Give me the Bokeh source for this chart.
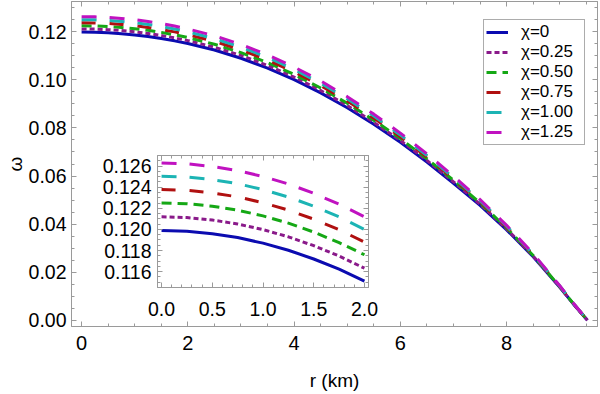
from bokeh.plotting import figure
from bokeh.models import (Range1d, LinearAxis, SingleIntervalTicker, NumeralTickFormatter,
                          Legend, LegendItem, GridBox, CustomLabelingPolicy)
from bokeh.embed import file_html
from bokeh.resources import INLINE

# ---------------- data ----------------
r_km = [0, 0.25, 0.5, 0.75, 1.0, 1.25, 1.5, 1.75, 2.0, 2.5, 3.0, 3.5, 4.0, 4.5,
        5.0, 5.5, 6.0, 6.5, 7.0, 7.5, 8.0, 8.5, 9.0, 9.25, 9.52]

omega_chi_000 = [0.11990, 0.11983, 0.11960, 0.11923, 0.11870, 0.11803, 0.11720, 0.11623, 0.11510,
                 0.11240, 0.10900, 0.10490, 0.10010, 0.09460, 0.08840, 0.08150, 0.07400, 0.06580,
                 0.05700, 0.04780, 0.03760, 0.02640, 0.01370, 0.00690, 0.0]
omega_chi_025 = [0.12119, 0.12112, 0.12089, 0.12051, 0.11998, 0.11930, 0.11846, 0.11748, 0.11633,
                 0.11360, 0.11016, 0.10602, 0.10116, 0.09560, 0.08933, 0.08236, 0.07478, 0.06649,
                 0.05759, 0.04829, 0.03798, 0.02666, 0.01384, 0.00697, 0.0]
omega_chi_050 = [0.12251, 0.12244, 0.12220, 0.12182, 0.12128, 0.12060, 0.11975, 0.11875, 0.11760,
                 0.11483, 0.11135, 0.10716, 0.10225, 0.09663, 0.09029, 0.08324, 0.07557, 0.06719,
                 0.05820, 0.04879, 0.03837, 0.02693, 0.01398, 0.00705, 0.0]
omega_chi_075 = [0.12377, 0.12370, 0.12346, 0.12308, 0.12253, 0.12183, 0.12097, 0.11997, 0.11880,
                 0.11600, 0.11249, 0.10825, 0.10329, 0.09761, 0.09120, 0.08408, 0.07633, 0.06787,
                 0.05878, 0.04927, 0.03874, 0.02719, 0.01411, 0.00712, 0.0]
omega_chi_100 = [0.12503, 0.12496, 0.12472, 0.12433, 0.12377, 0.12307, 0.12220, 0.12119, 0.12000,
                 0.11718, 0.11362, 0.10934, 0.10432, 0.09858, 0.09212, 0.08492, 0.07709, 0.06854,
                 0.05936, 0.04975, 0.03911, 0.02744, 0.01425, 0.00719, 0.0]
omega_chi_125 = [0.12628, 0.12621, 0.12596, 0.12557, 0.12501, 0.12430, 0.12342, 0.12239, 0.12120,
                 0.11834, 0.11475, 0.11042, 0.10535, 0.09955, 0.09302, 0.08575, 0.07785, 0.06921,
                 0.05993, 0.05022, 0.03948, 0.02769, 0.01438, 0.00726, 0.0]

series_labels = ["χ=0", "χ=0.25", "χ=0.50", "χ=0.75", "χ=1.00", "χ=1.25"]
series = [omega_chi_000, omega_chi_025, omega_chi_050, omega_chi_075, omega_chi_100, omega_chi_125]
inset_r_max = 2.0
x_title = "r (km)"
y_title = "ω"

# ---------------- styles ----------------
colors = ["#0b0bb0", "#8a1a8a", "#15a815", "#b01010", "#1cb4b4", "#c012c0"]
dashes = ["solid", "5 3", "10 6", "14 14", "15 13", "15 13"]
FONT = "Liberation Sans"
AX = "#9a9a9a"


def style_axis(ax, font_size=None, standoff=6):
    ax.axis_line_color = AX
    ax.major_tick_line_color = AX
    ax.minor_tick_line_color = AX
    ax.major_tick_in = 5
    ax.major_tick_out = 0
    ax.minor_tick_in = 3
    ax.minor_tick_out = 0
    ax.major_label_text_font = FONT
    ax.major_label_text_color = "black"
    ax.axis_label_text_font = FONT
    ax.axis_label_text_font_style = "normal"
    ax.axis_label_text_color = "black"
    if font_size is not None:
        ax.major_label_text_font_size = font_size
        ax.major_label_standoff = standoff
    else:
        # tick-only frame side (no labels, as in the reference)
        ax.major_label_text_font_size = "0px"
        ax.major_label_standoff = 0
        ax.major_label_policy = CustomLabelingPolicy(code="return []")


# ---------------- main figure ----------------
p = figure(width=600, height=394, x_range=Range1d(-0.19, 9.71), y_range=Range1d(-0.0026, 0.1326),
           output_backend="svg", toolbar_location=None,
           min_border_left=71, min_border_right=3, min_border_top=1, min_border_bottom=68)
p.grid.visible = False
p.outline_line_color = AX
p.background_fill_color = "white"

p.xaxis.ticker = SingleIntervalTicker(interval=2, num_minor_ticks=4)
p.yaxis.ticker = SingleIntervalTicker(interval=0.02, num_minor_ticks=4)
p.yaxis.formatter = NumeralTickFormatter(format="0.00")
p.xaxis.axis_label = x_title
p.yaxis.axis_label = y_title
for ax in p.xaxis:
    style_axis(ax, "20px", 9)
    ax.axis_label_text_font_size = "19px"
    ax.axis_label_standoff = 17
for ax in p.yaxis:
    style_axis(ax, "19.5px", 5)
    ax.axis_label_text_font_size = "19px"
    ax.axis_label_standoff = 0

top_ax = LinearAxis(ticker=SingleIntervalTicker(interval=2, num_minor_ticks=4))
style_axis(top_ax)
p.add_layout(top_ax, "above")
right_ax = LinearAxis(ticker=SingleIntervalTicker(interval=0.02, num_minor_ticks=4))
style_axis(right_ax)
p.add_layout(right_ax, "right")

items = []
for ys, c, d, lab in zip(series, colors, dashes, series_labels):
    rend = p.line(r_km, ys, line_color=c, line_width=3, line_dash=d)
    items.append(LegendItem(label=lab, renderers=[rend]))

legend = Legend(items=items, location=(412, 181))
legend.label_text_font = FONT
legend.label_text_font_size = "17px"
legend.label_text_color = "black"
legend.glyph_width = 22
legend.glyph_height = 20
legend.label_height = 20
legend.label_width = 61
legend.label_standoff = 13
legend.spacing = 0
legend.padding = 2
legend.margin = 0
legend.border_line_color = "#5a5a5a"
legend.border_line_width = 1
legend.background_fill_color = "white"
legend.background_fill_alpha = 1
p.add_layout(legend)

# ---------------- inset figure ----------------
ins = figure(width=292, height=174, x_range=Range1d(-0.04, 2.04), y_range=Range1d(0.1145, 0.1270),
             output_backend="svg", toolbar_location=None,
             min_border_left=67, min_border_right=14, min_border_top=5, min_border_bottom=37)
ins.grid.visible = False
ins.outline_line_color = AX
ins.background_fill_color = "white"
ins.border_fill_alpha = 0
ins.xaxis.ticker = SingleIntervalTicker(interval=0.5, num_minor_ticks=5)
ins.yaxis.ticker = SingleIntervalTicker(interval=0.002, num_minor_ticks=4)
ins.xaxis.formatter = NumeralTickFormatter(format="0.0")
ins.yaxis.formatter = NumeralTickFormatter(format="0.000")
for ax in ins.xaxis:
    style_axis(ax, "19.5px", 14)
for ax in ins.yaxis:
    style_axis(ax, "19.5px", 6)
itop = LinearAxis(ticker=SingleIntervalTicker(interval=0.5, num_minor_ticks=5))
style_axis(itop)
ins.add_layout(itop, "above")
iright = LinearAxis(ticker=SingleIntervalTicker(interval=0.002, num_minor_ticks=4))
style_axis(iright)
ins.add_layout(iright, "right")

n_in = sum(1 for v in r_km if v <= inset_r_max)
for ys, c, d in zip(series, colors, dashes):
    ins.line(r_km[:n_in], ys[:n_in], line_color=c, line_width=3, line_dash=d)

# ---------------- overlapping layout (inset drawn over the main frame) ----------------
grid = GridBox(children=[(p, 0, 0, 3, 3), (ins, 1, 1, 1, 1)],
               rows=["150px", "174px", "70px"], cols=["90px", "292px", "218px"],
               spacing=0)

open("out.html", "w").write(file_html(grid, INLINE))
